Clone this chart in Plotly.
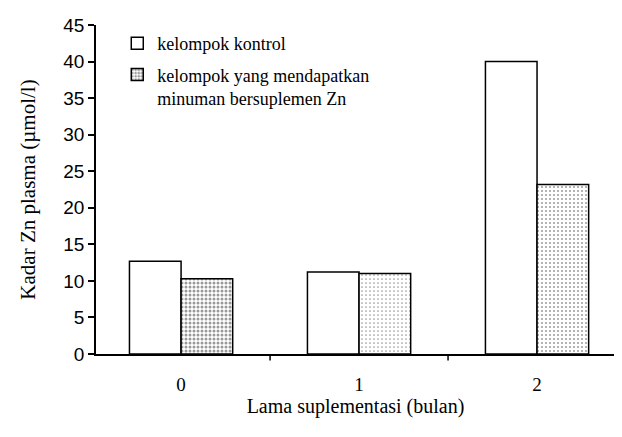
import plotly.graph_objects as go

categories = ["0", "1", "2"]
kontrol = [12.7, 11.2, 40.0]
suplemen = [10.3, 11.0, 23.2]
pattern_density = [0.45, 0.15, 0.2]
y_ticks = [0, 5, 10, 15, 20, 25, 30, 35, 40, 45]

x_pos = [0, 1, 2]

fig = go.Figure()
fig.add_trace(go.Bar(
    x=x_pos, y=kontrol, name="kelompok kontrol", legendgroup="a",
    marker=dict(color="white", line=dict(color="black", width=1.5)),
    width=0.29, offset=-0.29,
))
fig.add_trace(go.Bar(
    x=x_pos, y=suplemen, legendgroup="b",
    name="kelompok yang mendapatkan<br>minuman bersuplemen Zn",
    marker=dict(color="white", line=dict(color="black", width=1.5),
                pattern=dict(shape=".", fgcolor="#333", bgcolor="white",
                             size=4, solidity=pattern_density)),
    width=0.29, offset=0.0,
))

fig.update_layout(
    width=614, height=429,
    margin=dict(l=88, r=7, t=12, b=83),
    paper_bgcolor="white", plot_bgcolor="white",
    font=dict(family="Liberation Serif", size=18, color="black"),
    showlegend=True,
    legend=dict(x=0.041, y=1.0, xanchor="left", yanchor="top",
                bgcolor="rgba(0,0,0,0)", font=dict(size=18, family="Liberation Serif"),
                valign="top", tracegroupgap=5),
    xaxis=dict(range=[-0.478, 2.438], tickmode="array", tickvals=x_pos,
               ticktext=categories, showline=True, linecolor="black",
               linewidth=1.5, ticks="", showgrid=False, zeroline=False,
               ticklabelstandoff=12,
               tickfont=dict(size=19), title=dict(text="Lama suplementasi (bulan)",
               font=dict(size=20), standoff=5)),
    yaxis=dict(range=[0, 45], tickmode="array", tickvals=y_ticks,
               showline=True, linecolor="black", linewidth=1.5,
               ticks="outside", ticklen=6, tickwidth=1.5, tickcolor="black",
               showgrid=False, zeroline=False,
               tickfont=dict(size=19, family="Liberation Sans"),
               title=dict(text="Kadar Zn plasma (µmol/l)", font=dict(size=21),
                          standoff=22)),
)

# category boundary ticks on x axis
for xb in [0.5, 1.5]:
    fig.add_shape(type="line", xref="x", yref="paper", x0=xb, x1=xb,
                  y0=0, y1=-0.02, line=dict(color="black", width=1.5))

fig.write_html("out.html")
